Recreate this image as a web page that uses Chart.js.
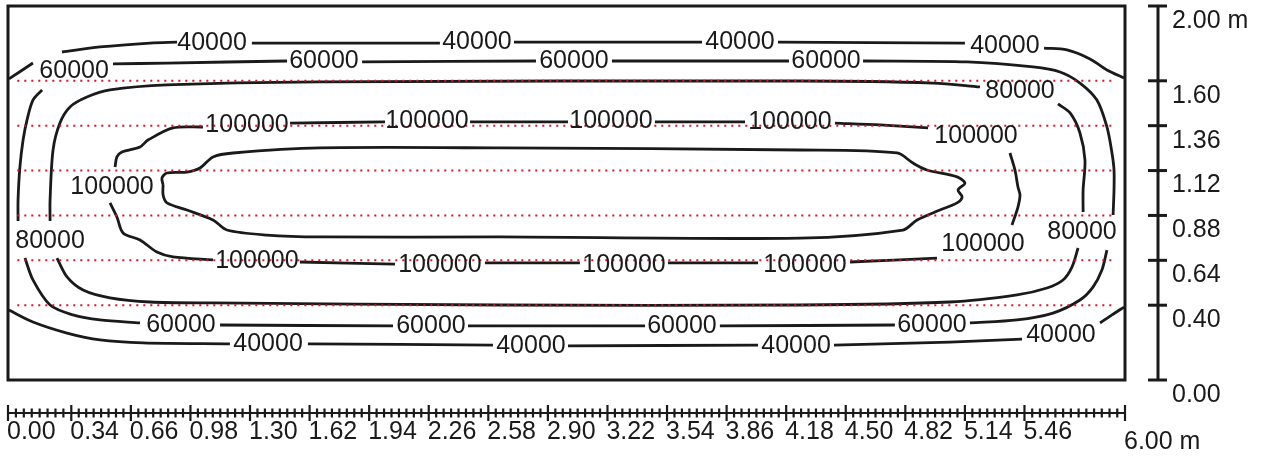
<!DOCTYPE html>
<html>
<head>
<meta charset="utf-8">
<script src="https://cdn.jsdelivr.net/npm/chart.js@4.4.1/dist/chart.umd.min.js"></script>
<style>
  html, body { margin: 0; padding: 0; background: #fff; }
  #wrap { width: 1265px; height: 457px; }
</style>
</head>
<body>
<div id="wrap"><canvas id="chart" width="1265" height="457"></canvas></div>
<script>
// right axis (height in m)
const yTicks = [0.00, 0.40, 0.64, 0.88, 1.12, 1.36, 1.60, 2.00];
const yTickLabels = ["0.00", "0.40", "0.64", "0.88", "1.12", "1.36", "1.60", "2.00 m"];

// bottom ruler (length in m)
const xTicks = [0.00, 0.34, 0.66, 0.98, 1.30, 1.62, 1.94, 2.26, 2.58, 2.90, 3.22, 3.54, 3.86, 4.18, 4.50, 4.82, 5.14, 5.46, 6.00];
const xTickLabels = ["0.00", "0.34", "0.66", "0.98", "1.30", "1.62", "1.94", "2.26", "2.58", "2.90", "3.22", "3.54", "3.86", "4.18", "4.50", "4.82", "5.14", "5.46", "6.00 m"];

// red dotted lines
const refLines = [0.40, 0.64, 0.88, 1.12, 1.36, 1.60];
const refFrom = 0.05, refTo = 5.95;

// contour lines [x, y] in m, split where the labels sit
const c40000 = [
  [[0.005, 1.610], [0.134, 1.695]],
  [[0.290, 1.754], [0.494, 1.781], [0.763, 1.802], [0.908, 1.807]],
  [[1.310, 1.802], [2.320, 1.802]],
  [[2.718, 1.807], [3.728, 1.807]],
  [[4.136, 1.807], [5.140, 1.802]],
  [[5.565, 1.775], [5.688, 1.765], [5.812, 1.717], [5.903, 1.658], [5.995, 1.615]],
  [[5.995, 0.390], [5.930, 0.348], [5.866, 0.305]],
  [[5.447, 0.219], [5.060, 0.203], [4.437, 0.187]],
  [[4.029, 0.187], [3.008, 0.182]],
  [[2.605, 0.187], [1.611, 0.193]],
  [[1.192, 0.193], [0.725, 0.198], [0.494, 0.214], [0.317, 0.251], [0.134, 0.310], [0.005, 0.374]]
];

const c60000 = [
  [[0.183, 1.551], [0.134, 1.497], [0.102, 1.390], [0.081, 1.283], [0.064, 1.139], [0.054, 0.963], [0.054, 0.850]],
  [[0.091, 0.652], [0.134, 0.535], [0.226, 0.401], [0.349, 0.348], [0.494, 0.321], [0.709, 0.305]],
  [[1.139, 0.294], [2.068, 0.289]],
  [[2.471, 0.289], [3.422, 0.289]],
  [[3.824, 0.289], [4.764, 0.294]],
  [[5.167, 0.305], [5.420, 0.321], [5.613, 0.358], [5.758, 0.428], [5.828, 0.497], [5.876, 0.588], [5.903, 0.695]],
  [[5.936, 0.882], [5.941, 1.016], [5.941, 1.123], [5.930, 1.214], [5.903, 1.353], [5.849, 1.497], [5.758, 1.588],
   [5.651, 1.647], [5.506, 1.674], [5.151, 1.701], [4.593, 1.706]],
  [[4.195, 1.706], [3.244, 1.706]],
  [[2.836, 1.706], [1.902, 1.701]],
  [[1.499, 1.706], [0.854, 1.695], [0.564, 1.690]]
];

const c80000 = [
  [[5.221, 1.567], [4.969, 1.588], [4.254, 1.599], [1.676, 1.594], [0.854, 1.578], [0.548, 1.551], [0.424, 1.513],
   [0.333, 1.460], [0.279, 1.374], [0.242, 1.230], [0.226, 0.963], [0.226, 0.850]],
  [[0.263, 0.652], [0.317, 0.551], [0.403, 0.481], [0.548, 0.439], [0.763, 0.417], [1.101, 0.412], [2.643, 0.401],
   [4.254, 0.401], [5.060, 0.417], [5.420, 0.455], [5.581, 0.492], [5.667, 0.535], [5.715, 0.604], [5.748, 0.706]],
  [[5.775, 0.898], [5.775, 1.016], [5.785, 1.176], [5.758, 1.321], [5.705, 1.428], [5.640, 1.476]]
];

const c100000 = [
  [[0.575, 1.139], [0.585, 1.193], [0.612, 1.219], [0.709, 1.246], [0.752, 1.283], [0.886, 1.348], [1.047, 1.353]],
  [[1.515, 1.374], [2.025, 1.380]],
  [[2.482, 1.380], [3.008, 1.380]],
  [[3.475, 1.380], [3.959, 1.380]],
  [[4.442, 1.374], [4.684, 1.364], [4.942, 1.348]],
  [[5.382, 1.214], [5.409, 1.123], [5.425, 1.032], [5.436, 0.989], [5.425, 0.925], [5.393, 0.829]],
  [[4.990, 0.652], [4.523, 0.631]],
  [[4.029, 0.626], [3.545, 0.626]],
  [[3.072, 0.626], [2.562, 0.626]],
  [[2.079, 0.620], [1.568, 0.631]],
  [[1.101, 0.642], [0.886, 0.658], [0.800, 0.684], [0.709, 0.749], [0.618, 0.786], [0.585, 0.872], [0.548, 0.947]]
];

// innermost closed contour (no label)
const cInner = [
  [[0.833, 1.043], [0.827, 1.080], [0.854, 1.107], [0.961, 1.112], [1.031, 1.134], [1.101, 1.193], [1.209, 1.214],
   [1.676, 1.241], [2.643, 1.241], [4.254, 1.230], [4.775, 1.214], [4.861, 1.160], [4.936, 1.123], [5.098, 1.086],
   [5.140, 1.053], [5.103, 1.016], [5.125, 0.979], [5.098, 0.947], [5.006, 0.909], [4.883, 0.856], [4.807, 0.802],
   [4.254, 0.759], [2.643, 0.765], [1.676, 0.765], [1.391, 0.775], [1.176, 0.802], [1.101, 0.856], [0.961, 0.909],
   [0.854, 0.947], [0.833, 0.989], [0.833, 1.043]]
];

// label positions [x, y] in m
const lab40000 = [[1.096, 1.802], [2.519, 1.807], [3.932, 1.807], [5.355, 1.786],
                  [1.397, 0.193], [2.809, 0.182], [4.233, 0.182], [5.656, 0.241]];
const lab60000 = [[0.355, 1.652], [1.697, 1.706], [3.040, 1.706], [4.394, 1.706],
                  [0.929, 0.294], [2.272, 0.289], [3.620, 0.289], [4.963, 0.294]];
const lab80000 = [[5.436, 1.545], [0.226, 0.743], [5.769, 0.791]];
const lab100000 = [[1.284, 1.364], [2.251, 1.385], [3.239, 1.385], [4.200, 1.380], [5.200, 1.305],
                   [0.559, 1.032], [5.237, 0.727],
                   [1.337, 0.636], [2.320, 0.615], [3.309, 0.615], [4.281, 0.615]];

const FONT = "25px 'Liberation Sans', Arial, sans-serif";
const INK = "#1a1a1a";

let datasets = [];

refLines.forEach(v => {
  datasets.push({
    data: [{ x: refFrom, y: v }, { x: refTo, y: v }],
    showLine: true,
    borderColor: "rgb(205,25,45)",
    borderWidth: 2,
    borderDash: [2, 5],
    pointRadius: 0,
    clip: false
  });
});

[c40000, c60000, c80000, c100000, cInner].forEach(contour => {
  contour.forEach(seg => {
    datasets.push({
      data: seg.map(p => ({ x: p[0], y: p[1] })),
      showLine: true,
      borderColor: INK,
      borderWidth: 2.8,
      tension: 0.3,
      pointRadius: 0,
      clip: false
    });
  });
});

const labelSets = [["40000", lab40000], ["60000", lab60000], ["80000", lab80000], ["100000", lab100000]];

function seg(ctx, x1, y1, x2, y2) {
  ctx.beginPath();
  ctx.moveTo(x1, y1);
  ctx.lineTo(x2, y2);
  ctx.stroke();
}

const framePlugin = {
  id: "frame",
  afterDatasetsDraw(chart) {
    const ctx = chart.ctx;
    const xs = chart.scales.x, ys = chart.scales.y;
    const area = chart.chartArea;
    ctx.save();
    ctx.strokeStyle = INK;
    ctx.fillStyle = INK;
    ctx.font = FONT;

    // box
    ctx.lineWidth = 3;
    ctx.strokeRect(area.left, area.top, area.right - area.left, area.bottom - area.top);

    // contour labels
    ctx.textAlign = "center";
    ctx.textBaseline = "middle";
    labelSets.forEach(([txt, pts]) => {
      pts.forEach(p => ctx.fillText(txt, xs.getPixelForValue(p[0]), ys.getPixelForValue(p[1])));
    });

    // right axis
    const ax = area.right + 33;
    ctx.lineWidth = 3;
    seg(ctx, ax, ys.getPixelForValue(yTicks[0]), ax, ys.getPixelForValue(yTicks[yTicks.length - 1]));
    ctx.textAlign = "left";
    yTicks.forEach((v, i) => {
      const py = ys.getPixelForValue(v);
      seg(ctx, ax - 10, py, ax + 9, py);
      ctx.fillText(yTickLabels[i], ax + 14, py + 15);
    });

    // bottom ruler
    const ry = area.bottom + 33;
    ctx.lineWidth = 2.2;
    seg(ctx, xs.getPixelForValue(xTicks[0]), ry, xs.getPixelForValue(xTicks[xTicks.length - 1]), ry);
    xTicks.forEach((v, i) => {
      const px = xs.getPixelForValue(v);
      seg(ctx, px, ry - 8, px, ry + 8);
      const last = i === xTicks.length - 1;
      ctx.fillText(xTickLabels[i], px - 1, ry + (last ? 29 : 19));
      if (!last) {
        const next = xTicks[i + 1];
        const n = Math.max(1, Math.round((next - v) / 0.04 - 0.1));
        for (let k = 1; k < n; k++) {
          const mx = xs.getPixelForValue(v + (next - v) * k / n);
          seg(ctx, mx, ry - 4.5, mx, ry + 4.5);
        }
      }
    });
    ctx.restore();
  }
};

new Chart(document.getElementById("chart"), {
  type: "scatter",
  data: { datasets },
  options: {
    responsive: false,
    devicePixelRatio: 1,
    animation: false,
    layout: { padding: { left: 8, top: 6, right: 140, bottom: 77 } },
    scales: {
      x: { type: "linear", min: xTicks[0], max: xTicks[xTicks.length - 1], display: false },
      y: { type: "linear", min: yTicks[0], max: yTicks[yTicks.length - 1], display: false }
    },
    plugins: { legend: { display: false }, tooltip: { enabled: false } }
  },
  plugins: [framePlugin]
});
</script>
</body>
</html>
